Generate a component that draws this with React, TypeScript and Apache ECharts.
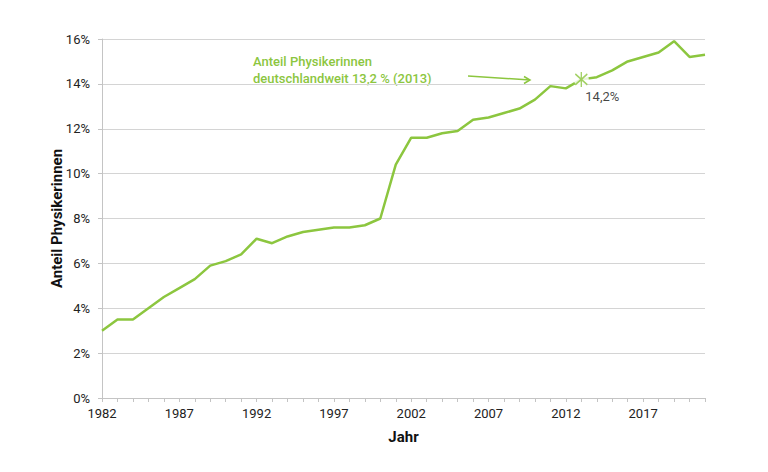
import * as echarts from "echarts";
import { useEffect, useRef } from "react";

const years = [
	"1982", "1983", "1984", "1985", "1986", "1987", "1988", "1989", "1990", "1991",
	"1992", "1993", "1994", "1995", "1996", "1997", "1998", "1999", "2000", "2001",
	"2002", "2003", "2004", "2005", "2006", "2007", "2008", "2009", "2010", "2011",
	"2012", "2013", "2014", "2015", "2016", "2017", "2018", "2019", "2020", "2021"
];

// Anteil Physikerinnen in %
const shareValues = [
	3.0, 3.5, 3.5, 4.0, 4.5, 4.9, 5.3, 5.9, 6.1, 6.4,
	7.1, 6.9, 7.2, 7.4, 7.5, 7.6, 7.6, 7.7, 8.0, 10.4,
	11.6, 11.6, 11.8, 11.9, 12.4, 12.5, 12.7, 12.9, 13.3, 13.9,
	13.8, 14.2, 14.3, 14.6, 15.0, 15.2, 15.4, 15.9, 15.2, 15.3
];

const highlightYear = "2013";
const highlightValue = 14.2;
const highlightLabel = "14,2%";
const noteLines = ["Anteil Physikerinnen", "deutschlandweit 13,2 % (2013)"];

const green = "#8cc63f";
const font = "Roboto, 'Noto Sans', sans-serif";

export default function App() {
	const chartRef = useRef<HTMLDivElement>(null);

	useEffect(() => {
		if (!chartRef.current) return;
		document.body.style.margin = "0";

		const chart = echarts.init(chartRef.current, undefined, { renderer: "svg" });

		const option: echarts.EChartsOption = {
			animation: false,
			textStyle: { fontFamily: font },
			grid: { left: 102, right: 63, top: 39, bottom: 74 },
			xAxis: {
				type: "category",
				data: years,
				boundaryGap: false,
				name: "Jahr",
				nameLocation: "middle",
				nameGap: 31,
				nameMoveOverlap: false,
				nameTextStyle: { fontSize: 15, fontWeight: "bold", color: "#111" },
				axisLine: { lineStyle: { color: "#c4c4c4" } },
				axisTick: { interval: 0, length: 4, lineStyle: { color: "#c4c4c4" } },
				axisLabel: { interval: 4, margin: 9, fontSize: 13, color: "#222" },
				splitLine: { show: false }
			},
			yAxis: {
				type: "value",
				min: 0,
				max: 16,
				interval: 2,
				name: "Anteil Physikerinnen",
				nameLocation: "middle",
				nameGap: 38,
				nameMoveOverlap: false,
				nameTextStyle: { fontSize: 15, fontWeight: "bold", color: "#111" },
				axisLine: { show: true, lineStyle: { color: "#c4c4c4" } },
				axisTick: { show: true, length: 4, lineStyle: { color: "#c4c4c4" } },
				axisLabel: { margin: 12, fontSize: 13, color: "#222", formatter: "{value}%" },
				splitLine: { lineStyle: { color: "#d4d4d4", width: 1 } }
			},
			series: [
				{
					type: "line",
					data: shareValues,
					showSymbol: false,
					symbol: "none",
					lineStyle: { color: green, width: 2.5 },
					z: 2
				},
				{
					// white gap around the marker
					type: "scatter",
					data: [[highlightYear, highlightValue]],
					symbol: "circle",
					symbolSize: 15,
					itemStyle: { color: "#fff" },
					z: 3,
					silent: true
				},
				{
					type: "scatter",
					data: [[highlightYear, highlightValue]],
					symbol: "path://M0,0L10,10M10,0L0,10M5,-2L5,12",
					symbolSize: [12, 15],
					itemStyle: { color: "none", borderColor: green, borderWidth: 1.5 },
					label: {
						show: true,
						position: "bottom",
						offset: [21, -5],
						formatter: highlightLabel,
						fontSize: 13,
						color: "#111"
					},
					z: 4,
					silent: true
				}
			],
			graphic: [
				{
					type: "text",
					left: 253,
					top: 53,
					style: {
						text: noteLines.join("\n"),
						fill: green,
						fontSize: 13,
						fontWeight: 500,
						fontFamily: font,
						lineHeight: 17
					}
				},
				{
					type: "line",
					shape: { x1: 468, y1: 76, x2: 530, y2: 80 },
					style: { stroke: green, lineWidth: 1.5 }
				},
				{
					type: "polyline",
					shape: { points: [[524, 76.5], [530, 80], [524, 83.5]] },
					style: { stroke: green, lineWidth: 1.5, fill: "none" }
				}
			]
		};

		chart.setOption(option);

		return () => {
			chart.dispose();
		};
	}, []);

	return <div ref={chartRef} style={{ width: 768, height: 472 }} />;
}
